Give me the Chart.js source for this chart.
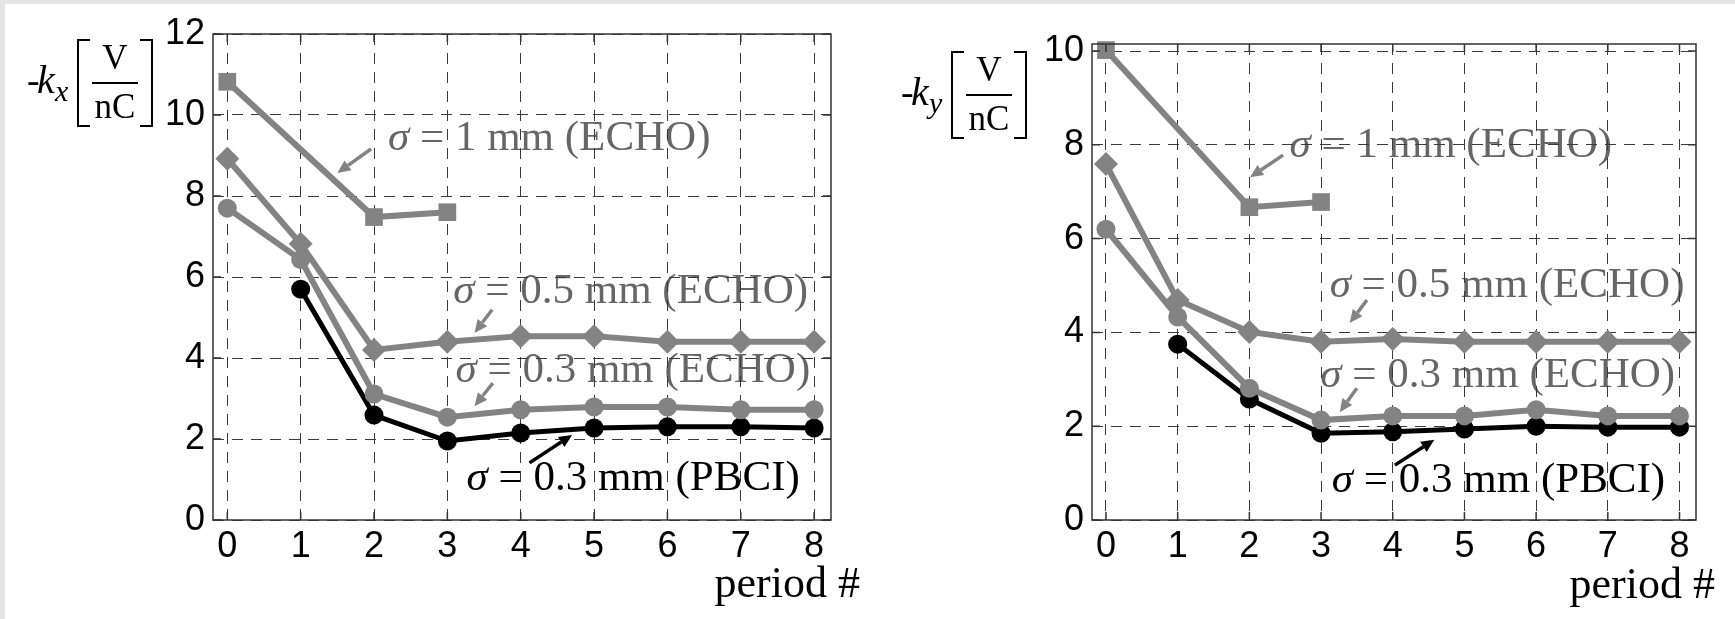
<!DOCTYPE html>
<html>
<head>
<meta charset="utf-8">
<script src="https://cdn.jsdelivr.net/npm/chart.js@4.4.1/dist/chart.umd.min.js"></script>
<style>
  html, body { margin: 0; padding: 0; background: #e5e5e5; }
  #page { position: absolute; left: 5px; top: 4px; right: 0; bottom: 0; background: #fff; }
  canvas { position: absolute; top: 0; }
  #kx { left: 0; }
  #ky { left: 873px; }
</style>
</head>
<body>
<div id="page"></div>
<canvas id="kx" width="873" height="619"></canvas>
<canvas id="ky" width="862" height="619"></canvas>
<script>
// ---------------------------------------------------------------------------
// Data
// ---------------------------------------------------------------------------
const periods = [0, 1, 2, 3, 4, 5, 6, 7, 8];
const xTicks = [0, 1, 2, 3, 4, 5, 6, 7, 8];
const kxTicks = [0, 2, 4, 6, 8, 10, 12];
const kyTicks = [0, 2, 4, 6, 8, 10];

// -k_x [V/nC]
const kx1mmEcho  = [10.82, null, 7.48, 7.6, null, null, null, null, null];
const kx05mmEcho = [8.92, 6.82, 4.2, 4.4, 4.54, 4.54, 4.4, 4.4, 4.4];
const kx03mmEcho = [7.7, 6.43, 3.11, 2.54, 2.72, 2.79, 2.79, 2.72, 2.72];
const kx03mmPbci = [null, 5.7, 2.59, 1.95, 2.15, 2.27, 2.3, 2.3, 2.27];

// -k_y [V/nC]
const ky1mmEcho  = [10.02, null, 6.67, 6.78, null, null, null, null, null];
const ky05mmEcho = [7.59, 4.69, 4.01, 3.8, 3.86, 3.8, 3.8, 3.8, 3.8];
const ky03mmEcho = [6.2, 4.33, 2.81, 2.13, 2.22, 2.22, 2.35, 2.22, 2.22];
const ky03mmPbci = [null, 3.75, 2.58, 1.85, 1.88, 1.94, 2.0, 1.98, 1.98];

// labels with arrows, in data units: text start, arrow tail, arrow head
const kxNotes = [
  { text: ' = 1 mm (ECHO)',   at: [2.19, 9.14], from: [1.96, 9.16], to: [1.5, 8.57],  dark: false },
  { text: ' = 0.5 mm (ECHO)', at: [3.08, 5.36], from: [3.61, 5.19], to: [3.37, 4.62], dark: false },
  { text: ' = 0.3 mm (ECHO)', at: [3.11, 3.41], from: [3.62, 3.38], to: [3.37, 2.81], dark: false },
  { text: ' = 0.3 mm (PBCI)', at: [3.26, 0.74], from: [4.12, 1.41], to: [4.7, 2.1],   dark: true },
];
const kyNotes = [
  { text: ' = 1 mm (ECHO)',   at: [2.56, 7.74], from: [2.47, 7.78], to: [2.01, 7.31], dark: false },
  { text: ' = 0.5 mm (ECHO)', at: [3.12, 4.75], from: [3.64, 4.69], to: [3.4, 4.2],   dark: false },
  { text: ' = 0.3 mm (ECHO)', at: [2.99, 2.84], from: [3.5, 2.81],  to: [3.26, 2.3],  dark: false },
  { text: ' = 0.3 mm (PBCI)', at: [3.15, 0.6],  from: [4.03, 1.17], to: [4.58, 1.71], dark: true },
];

// ---------------------------------------------------------------------------
// Styles
// ---------------------------------------------------------------------------
const GRAY = '#838383';
const TEXT_GRAY = '#666666';
const SERIF = '"Liberation Serif", "Times New Roman", serif';
const SANS = '"Liberation Sans", Arial, sans-serif';

function pts(arr) {
  return periods.map((p, i) => ({ x: p, y: arr[i] })).filter(d => d.y != null);
}

function series(arr, color, style, radius, width) {
  return {
    data: pts(arr),
    borderColor: color,
    backgroundColor: color,
    borderWidth: width,
    pointStyle: style,
    pointRadius: radius,
    pointBorderWidth: 0,
    tension: 0,
    clip: false,
  };
}

function drawArrow(ctx, x1, y1, x2, y2, color) {
  const ang = Math.atan2(y2 - y1, x2 - x1);
  const len = 13, half = 6;
  const bx = x2 - len * Math.cos(ang), by = y2 - len * Math.sin(ang);
  ctx.strokeStyle = color;
  ctx.fillStyle = color;
  ctx.lineWidth = 3.5;
  ctx.beginPath();
  ctx.moveTo(x1, y1);
  ctx.lineTo(bx, by);
  ctx.stroke();
  ctx.beginPath();
  ctx.moveTo(x2, y2);
  ctx.lineTo(bx + half * Math.sin(ang), by - half * Math.cos(ang));
  ctx.lineTo(bx - half * Math.sin(ang), by + half * Math.cos(ang));
  ctx.closePath();
  ctx.fill();
}

// text labels go under the grid, arrows above it
const notesPlugin = {
  id: 'notes',
  beforeDraw(chart, args, opts) {
    const { ctx, scales: { x, y } } = chart;
    ctx.save();
    ctx.textAlign = 'left';
    ctx.textBaseline = 'alphabetic';
    opts.notes.forEach(n => {
      const px = x.getPixelForValue(n.at[0]), py = y.getPixelForValue(n.at[1]);
      ctx.fillStyle = n.dark ? '#000' : TEXT_GRAY;
      ctx.font = 'italic 43px ' + SERIF;
      ctx.fillText('σ', px, py);
      const w = ctx.measureText('σ').width;
      ctx.font = '43px ' + SERIF;
      ctx.fillText(n.text, px + w, py);
    });
    ctx.restore();
  },
  afterDatasetsDraw(chart, args, opts) {
    const { ctx, scales: { x, y } } = chart;
    ctx.save();
    opts.notes.forEach(n => {
      drawArrow(ctx,
        x.getPixelForValue(n.from[0]), y.getPixelForValue(n.from[1]),
        x.getPixelForValue(n.to[0]), y.getPixelForValue(n.to[1]),
        n.dark ? '#000' : GRAY);
    });
    ctx.restore();
  },
};

// solid box with inward tick marks, axis titles
const framePlugin = {
  id: 'frame',
  afterDraw(chart, args, opts) {
    const { ctx, chartArea: a, scales: { x, y } } = chart;
    ctx.save();
    ctx.strokeStyle = '#333';
    ctx.lineWidth = 1.5;
    ctx.strokeRect(a.left, a.top, a.right - a.left, a.bottom - a.top);
    ctx.beginPath();
    x.ticks.forEach(t => {
      const px = x.getPixelForValue(t.value);
      ctx.moveTo(px, a.bottom); ctx.lineTo(px, a.bottom - 8);
      ctx.moveTo(px, a.top); ctx.lineTo(px, a.top + 8);
    });
    y.ticks.forEach(t => {
      const py = y.getPixelForValue(t.value);
      ctx.moveTo(a.left, py); ctx.lineTo(a.left + 8, py);
      ctx.moveTo(a.right, py); ctx.lineTo(a.right - 8, py);
    });
    ctx.stroke();

    // y title: -k_sub [ V / nC ]
    const bx = opts.bx, by = opts.by;
    ctx.fillStyle = '#000';
    ctx.textBaseline = 'alphabetic';
    ctx.textAlign = 'left';
    ctx.font = '38px ' + SERIF;
    ctx.fillText('-', bx - 50, by + 53);
    ctx.font = 'italic 40px ' + SERIF;
    ctx.fillText('k', bx - 40, by + 53);
    ctx.font = 'italic 30px ' + SERIF;
    ctx.fillText(opts.sub, bx - 22, by + 61);

    ctx.strokeStyle = '#000';
    ctx.lineWidth = 2;
    ctx.beginPath();
    ctx.moveTo(bx + 13, by); ctx.lineTo(bx + 1, by); ctx.lineTo(bx + 1, by + 86); ctx.lineTo(bx + 13, by + 86);
    ctx.moveTo(bx + 63, by); ctx.lineTo(bx + 75, by); ctx.lineTo(bx + 75, by + 86); ctx.lineTo(bx + 63, by + 86);
    ctx.stroke();
    ctx.lineWidth = 1.8;
    ctx.beginPath();
    ctx.moveTo(bx + 15, by + 43); ctx.lineTo(bx + 61, by + 43);
    ctx.stroke();

    ctx.textAlign = 'center';
    ctx.font = '35px ' + SERIF;
    ctx.fillText('V', bx + 38, by + 29);
    ctx.fillText('nC', bx + 38, by + 78);

    // x title
    ctx.textAlign = 'right';
    ctx.font = '44px ' + SERIF;
    ctx.fillText('period #', opts.xRight, opts.xBase);
    ctx.restore();
  },
};

function makeChart(id, cfg) {
  return new Chart(document.getElementById(id), {
    type: 'line',
    data: {
      datasets: [
        series(cfg.s1, GRAY, 'rect', 12.5, 6),
        series(cfg.s05, GRAY, 'rectRot', 12, 6),
        series(cfg.s03, GRAY, 'circle', 9.5, 6),
        series(cfg.pbci, '#000', 'circle', 9.5, 5),
      ],
    },
    options: {
      responsive: false,
      animation: false,
      events: [],
      layout: { padding: { left: 0, top: cfg.top, right: cfg.right, bottom: 0 } },
      plugins: {
        legend: { display: false },
        tooltip: { enabled: false },
        notes: { notes: cfg.notes },
        frame: cfg.frame,
      },
      scales: {
        x: {
          type: 'linear',
          min: -0.195,
          max: 8.23,
          afterBuildTicks: s => { s.ticks = xTicks.map(v => ({ value: v })); },
          afterFit: s => { s.height = 99; },
          grid: { color: '#3a3a3a', lineWidth: 1, drawTicks: false },
          border: { display: false, dash: [11, 8] },
          ticks: { font: { family: SANS, size: 36 }, color: '#000', padding: 5, maxRotation: 0, autoSkip: false },
        },
        y: {
          type: 'linear',
          min: 0,
          max: cfg.ymax,
          afterBuildTicks: s => { s.ticks = cfg.yTicks.map(v => ({ value: v })); },
          afterFit: s => { s.width = cfg.yw; },
          grid: { color: '#3a3a3a', lineWidth: 1, drawTicks: false },
          border: { display: false, dash: [11, 8] },
          ticks: { font: { family: SANS, size: 36 }, color: '#000', padding: 8 },
        },
      },
    },
    plugins: [notesPlugin, framePlugin],
  });
}

makeChart('kx', {
  s1: kx1mmEcho, s05: kx05mmEcho, s03: kx03mmEcho, pbci: kx03mmPbci,
  notes: kxNotes, yTicks: kxTicks, ymax: 12,
  top: 34, right: 42, yw: 213,
  frame: { bx: 77, by: 40, sub: 'x', xRight: 860, xBase: 597 },
});

makeChart('ky', {
  s1: ky1mmEcho, s05: ky05mmEcho, s03: ky03mmEcho, pbci: ky03mmPbci,
  notes: kyNotes, yTicks: kyTicks, ymax: 10.15,
  top: 44, right: 39, yw: 219,
  frame: { bx: 78, by: 52, sub: 'y', xRight: 842, xBase: 598 },
});
</script>
</body>
</html>
